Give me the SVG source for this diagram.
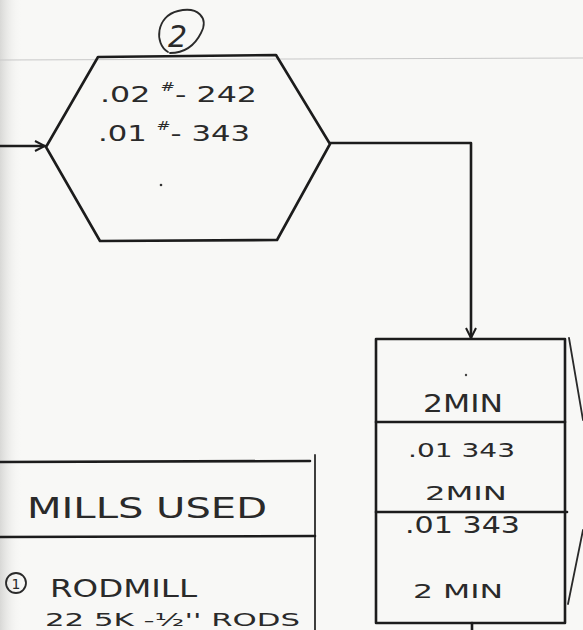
<svg xmlns="http://www.w3.org/2000/svg" width="583" height="630" viewBox="0 0 583 630">
<style>
.ln{fill:none;stroke:#1c1c1c;stroke-width:2.6;stroke-linecap:round;stroke-linejoin:round}
.thin{fill:none;stroke:#2a2a2a;stroke-width:1.8;stroke-linecap:round}
.hw{font-family:"DejaVu Sans","Liberation Sans",sans-serif;fill:#2a2a2a}
.sup{font-size:12px}
</style>
<defs>
<marker id="chev" viewBox="0 0 12 12" refX="11" refY="6" markerWidth="12" markerHeight="12" markerUnits="userSpaceOnUse" orient="auto">
<path d="M1,1 L11,6 L1,11" fill="none" stroke="#1c1c1c" stroke-width="2"/>
</marker>
<linearGradient id="edge" x1="0" y1="0" x2="1" y2="0">
<stop offset="0" stop-color="#d8d8d6"/>
<stop offset="1" stop-color="#f8f8f6" stop-opacity="0"/>
</linearGradient>
</defs>
<rect width="583" height="630" fill="#f8f8f6"/>
<rect width="22" height="630" fill="url(#edge)"/>
<line x1="0" y1="60" x2="583" y2="58" stroke="#c8c8c8" stroke-width="1"/>

<g id="connectors">
<path class="ln" d="M0,146 L45,146" marker-end="url(#chev)"/>
<path class="ln" d="M330,143 L471,143 L471,338" marker-end="url(#chev)"/>
<path class="ln" d="M472,623 L472,630"/>
<path class="thin" d="M569,338 L583,420"/>
<path class="thin" d="M568,604 L583,530"/>
</g>

<g id="label-2">
<path class="thin" d="M168,52 C154,44 156,16 178,11 C198,6 209,18 201,33 C195,45 185,53 170,53"/>
<text class="hw" x="168" y="47" font-size="30" font-style="italic">2</text>
</g>

<g id="hex-node">
<polygon class="ln" points="98,57 276,55 330,144 277,240 100,241 46,147"/>
<text class="hw" x="100" y="102" font-size="22" textLength="157" lengthAdjust="spacingAndGlyphs">.02 <tspan class="sup" dy="-11">#</tspan><tspan dy="11">- 242</tspan></text>
<text class="hw" x="98" y="141" font-size="22" textLength="152" lengthAdjust="spacingAndGlyphs">.01 <tspan class="sup" dy="-11">#</tspan><tspan dy="11">- 343</tspan></text>
<circle cx="161" cy="185" r="1.3" fill="#333"/>
</g>

<g id="time-box">
<rect class="ln" x="376" y="339" width="189" height="284"/>
<line class="ln" x1="376" y1="422" x2="565" y2="422"/>
<line class="ln" x1="376" y1="512" x2="567" y2="512"/>
<circle cx="466" cy="375" r="1.2" fill="#444"/>
<text class="hw" x="423" y="412" font-size="25" textLength="80" lengthAdjust="spacingAndGlyphs">2MIN</text>
<text class="hw" x="408" y="457" font-size="20" textLength="107" lengthAdjust="spacingAndGlyphs">.01 343</text>
<text class="hw" x="425" y="500" font-size="20" textLength="82" lengthAdjust="spacingAndGlyphs">2MIN</text>
<text class="hw" x="405" y="533" font-size="23" textLength="115" lengthAdjust="spacingAndGlyphs">.01 343</text>
<text class="hw" x="413" y="598" font-size="20" textLength="90" lengthAdjust="spacingAndGlyphs">2 MIN</text>
</g>

<g id="mills-table">
<line class="ln" x1="0" y1="462" x2="310" y2="461"/>
<line class="thin" x1="315" y1="455" x2="315" y2="630"/>
<line class="ln" x1="0" y1="537" x2="315" y2="536"/>
<text class="hw" x="27" y="518" font-size="29" textLength="240" lengthAdjust="spacingAndGlyphs">MILLS USED</text>
<circle class="thin" cx="16" cy="583" r="10" stroke-width="1.6"/>
<text class="hw" x="16" y="589" font-size="14" text-anchor="middle">1</text>
<text class="hw" x="50" y="597" font-size="25" textLength="147" lengthAdjust="spacingAndGlyphs">RODMILL</text>
<text class="hw" x="45" y="626" font-size="18" textLength="255" lengthAdjust="spacingAndGlyphs">22 5K -½'' RODS</text>
</g>
</svg>
